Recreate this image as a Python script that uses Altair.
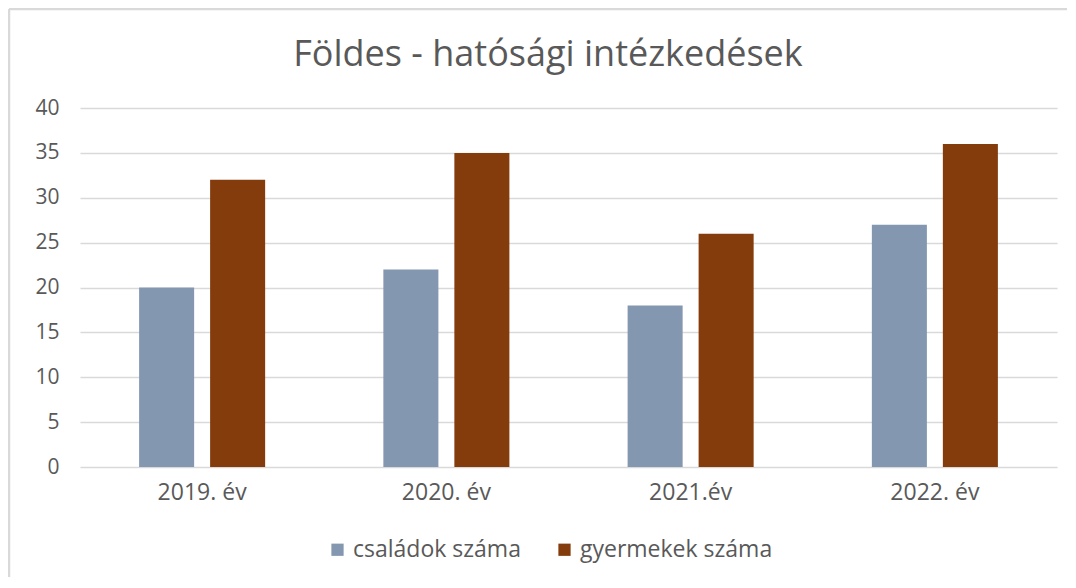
import altair as alt
import pandas as pd

title_text = "Földes - hatósági intézkedések"
years = ["2019. év", "2020. év", "2021.év", "2022. év"]
series = ["családok száma", "gyermekek száma"]
csaladok = [20, 22, 18, 27]
gyermekek = [32, 35, 26, 36]
colors = ["#8497B0", "#843C0C"]

rows = []
for i, y in enumerate(years):
    rows.append({"ev": y, "sorozat": series[0], "ertek": csaladok[i]})
    rows.append({"ev": y, "sorozat": series[1], "ertek": gyermekek[i]})
df = pd.DataFrame(rows)

FONT = "Open Sans"
GRAY = "#595959"

bars = alt.Chart(df).mark_bar().encode(
    x=alt.X("ev:N", sort=years, title=None,
            scale=alt.Scale(paddingInner=0.484, paddingOuter=0.242),
            axis=alt.Axis(labelAngle=0, domain=False, ticks=False, labelPadding=14,
                          labelFontSize=23, labelColor=GRAY, labelFont=FONT, grid=False)),
    xOffset=alt.XOffset("sorozat:N", sort=series,
                        scale=alt.Scale(paddingInner=0.225, paddingOuter=0)),
    y=alt.Y("ertek:Q", title=None,
            scale=alt.Scale(domain=[0, 40]),
            axis=alt.Axis(values=[0, 5, 10, 15, 20, 25, 30, 35, 40], domain=False, ticks=False,
                          labelPadding=21, labelFontSize=21, labelColor=GRAY, labelFont=FONT,
                          gridColor="#d9d9d9", gridWidth=1.5)),
    color=alt.Color("sorozat:N", sort=series, title=None,
                    scale=alt.Scale(domain=series, range=colors),
                    legend=alt.Legend(orient="none", direction="horizontal", legendX=246,
                                      legendY=430, symbolType="square", symbolSize=150,
                                      symbolStrokeWidth=0, labelFontSize=23, labelColor=GRAY,
                                      labelFont=FONT, labelLimit=400, columnPadding=32,
                                      symbolOffset=0, labelOffset=4)),
)

title = alt.Chart(pd.DataFrame({"t": [title_text]})).mark_text(
    font=FONT, fontSize=36, color=GRAY, align="center", baseline="alphabetic"
).encode(text="t:N", x=alt.value(468), y=alt.value(-42))

border = alt.Chart(pd.DataFrame({"a": [0]})).mark_rule(color="#d9d9d9", strokeWidth=2.5).encode(
    x=alt.value(-71), y=alt.value(-99), y2=alt.value(600)
)
border_top = alt.Chart(pd.DataFrame({"a": [0]})).mark_rule(color="#d9d9d9", strokeWidth=2.5).encode(
    x=alt.value(-71), x2=alt.value(1100), y=alt.value(-99)
)

chart = alt.layer(bars, title, border, border_top).properties(
    width=977, height=359,
    autosize=alt.AutoSizeParams(type="none"),
    padding={"left": 72, "top": 100, "right": 10, "bottom": 110},
).configure(background="white").configure_view(strokeWidth=0, stroke=None)

chart.save("out.html", embed_options={"renderer": "svg", "actions": False})
